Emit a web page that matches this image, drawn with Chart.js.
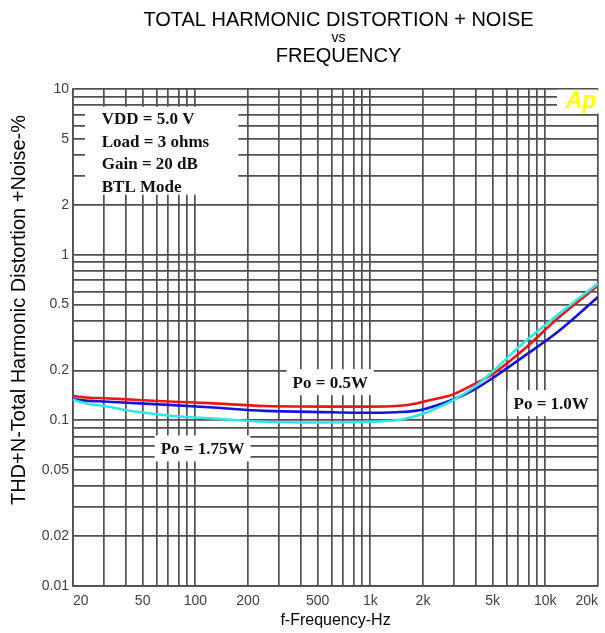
<!DOCTYPE html>
<html>
<head>
<meta charset="utf-8">
<script src="https://cdn.jsdelivr.net/npm/chart.js@4/dist/chart.umd.min.js"></script>
<style>
  html, body { margin: 0; padding: 0; background: #fff; }
  #wrap { width: 605px; height: 633px; position: relative; }
</style>
</head>
<body>
<div id="wrap"><canvas id="thdChart"></canvas></div>
<script>
const freqHz = [20, 25, 30, 45, 70, 120, 250, 600, 1000, 1400, 1800, 2100, 3000, 4000, 5000, 7600, 11700, 20000];

// THD+N (%) for each output power
const thdPo05 = [0.140, 0.137, 0.136, 0.133, 0.130, 0.127, 0.122, 0.121, 0.121, 0.122, 0.126, 0.131, 0.144, 0.167, 0.190, 0.270, 0.410, 0.650];
const thdPo10 = [0.134, 0.131, 0.130, 0.127, 0.124, 0.120, 0.114, 0.112, 0.111, 0.112, 0.114, 0.118, 0.134, 0.155, 0.180, 0.245, 0.340, 0.555];
const thdPo175 = [0.133, 0.125, 0.122, 0.113, 0.107, 0.103, 0.098, 0.097, 0.098, 0.100, 0.106, 0.112, 0.133, 0.161, 0.197, 0.297, 0.430, 0.670];

// labelled ticks
const xTickLabels = [20, 50, 100, 200, 500, 1000, 2000, 5000, 10000, 20000];
const yTickLabels = [0.01, 0.02, 0.05, 0.1, 0.2, 0.5, 1, 2, 5, 10];

const infoLines = ['VDD = 5.0 V', 'Load = 3 ohms', 'Gain = 20 dB', 'BTL Mode'];

const GRID = '#505050';
const SERIF = '"Liberation Serif", "Times New Roman", serif';
const SANS = '"Liberation Sans", Arial, sans-serif';

// 1..9 x 10^n grid between min and max
function logGrid(min, max) {
    let out = [];
    for (let e = -3; e <= 5; e++) {
        for (let m = 1; m <= 9; m++) {
            let v = Number((m * Math.pow(10, e)).toPrecision(6));
            if (v >= min && v <= max) out.push(v);
        }
    }
    return out;
}

function isLabelled(list, v) {
    return list.some((t) => Math.abs(t - v) / t < 1e-6);
}

function toPoints(ys) {
    return freqHz.map((f, i) => ({ x: f, y: ys[i] }));
}

const gridX = logGrid(20, 20000);
const gridY = logGrid(0.01, 10);

// title block (three centred lines, middle one smaller) and the y axis title
const titleBlock = {
    id: 'titleBlock',
    afterDraw(chart) {
        let ctx = chart.ctx;
        let area = chart.chartArea;
        let cx = (area.left + area.right) / 2 + 3;
        ctx.save();
        ctx.fillStyle = '#000';
        ctx.textAlign = 'center';
        ctx.textBaseline = 'middle';
        ctx.font = '20px ' + SANS;
        ctx.fillText('TOTAL HARMONIC DISTORTION + NOISE', cx, 20);
        ctx.font = '14px ' + SANS;
        ctx.fillText('vs', cx, 38);
        ctx.font = '20px ' + SANS;
        ctx.fillText('FREQUENCY', cx, 56);

        // y axis title, rotated
        ctx.translate(19, 310);
        ctx.rotate(-Math.PI / 2);
        ctx.font = '20px ' + SANS;
        ctx.fillText('THD+N-Total Harmonic Distortion +Noise-%', 0, 0);
        ctx.restore();
    }
};

// white boxes with the labels inside the plot
const plotNotes = {
    id: 'plotNotes',
    beforeDatasetsDraw(chart) {
        let ctx = chart.ctx;
        let xs = chart.scales.x;
        let ys = chart.scales.y;
        ctx.save();

        // condition box, top-left
        let bx0 = xs.getPixelForValue(23.4), bx1 = xs.getPixelForValue(176);
        let by0 = ys.getPixelForValue(7.8), by1 = ys.getPixelForValue(2.3);
        ctx.fillStyle = '#fff';
        ctx.fillRect(bx0, by0, bx1 - bx0, by1 - by0);
        ctx.fillStyle = '#111';
        ctx.font = 'bold 17px ' + SERIF;
        ctx.textAlign = 'left';
        ctx.textBaseline = 'middle';
        let tx = xs.getPixelForValue(29.2);
        infoLines.forEach((line, i) => {
            ctx.fillText(line, tx, by0 + 13 + i * 22.5);
        });

        // power labels
        let notes = [
            { text: 'Po = 0.5W', f: 590, v: 0.170 },
            { text: 'Po = 1.75W', f: 110, v: 0.0677 },
            { text: 'Po = 1.0W', f: 10800, v: 0.127 }
        ];
        ctx.textAlign = 'center';
        notes.forEach((n) => {
            let px = xs.getPixelForValue(n.f);
            let py = ys.getPixelForValue(n.v);
            let w = ctx.measureText(n.text).width + 12;
            ctx.fillStyle = '#fff';
            ctx.fillRect(px - w / 2, py - 13, w, 26);
            ctx.fillStyle = '#111';
            ctx.fillText(n.text, px, py + 1);
        });

        // Ap logo
        let ax = xs.getPixelForValue(16000);
        let ay = ys.getPixelForValue(8.5);
        ctx.fillStyle = '#fff';
        ctx.fillRect(ax - 24, ay - 11, 44, 24);
        ctx.fillStyle = '#ffff00';
        ctx.font = 'italic bold 23px ' + SANS;
        ctx.fillText('Ap', ax, ay + 1);
        ctx.restore();
    }
};

let ctx = document.getElementById('thdChart').getContext('2d');
let chart = new Chart(ctx, {
    type: 'line',
    data: {
        datasets: [
            {
                label: 'Po = 1.75W',
                data: toPoints(thdPo175),
                borderColor: '#2ee8e8',
                borderWidth: 2.6,
                pointRadius: 0,
                cubicInterpolationMode: 'monotone'
            },
            {
                label: 'Po = 0.5W',
                data: toPoints(thdPo05),
                borderColor: '#f01414',
                borderWidth: 2.6,
                pointRadius: 0,
                cubicInterpolationMode: 'monotone'
            },
            {
                label: 'Po = 1.0W',
                data: toPoints(thdPo10),
                borderColor: '#1414dc',
                borderWidth: 2.6,
                pointRadius: 0,
                cubicInterpolationMode: 'monotone'
            }
        ]
    },
    options: {
        responsive: true,
        maintainAspectRatio: false,
        animation: false,
        devicePixelRatio: 1,
        layout: { padding: { top: 89, right: 1, left: 0, bottom: 0 } },
        plugins: {
            legend: { display: false },
            tooltip: { enabled: false },
            title: { display: false }
        },
        scales: {
            x: {
                type: 'logarithmic',
                min: 20,
                max: 20000,
                afterBuildTicks: (s) => { s.ticks = gridX.map((v) => ({ value: v })); },
                afterFit: (s) => { s.height = 47; },
                ticks: {
                    autoSkip: false,
                    maxRotation: 0,
                    minRotation: 0,
                    align: 'inner',
                    padding: 7,
                    color: '#404040',
                    font: { family: SANS, size: 14 },
                    callback: (v) => {
                        if (!isLabelled(xTickLabels, v)) return '';
                        return v >= 1000 ? (v / 1000) + 'k' : String(v);
                    }
                },
                grid: { color: GRID, lineWidth: 1.7, drawTicks: false },
                border: { color: GRID, width: 1.7 },
                title: {
                    display: true,
                    text: 'f-Frequency-Hz',
                    color: '#000',
                    font: { family: SANS, size: 16 },
                    padding: { top: 0, bottom: 3 }
                }
            },
            y: {
                type: 'logarithmic',
                min: 0.01,
                max: 10,
                afterBuildTicks: (s) => { s.ticks = gridY.map((v) => ({ value: v })); },
                afterFit: (s) => { s.width = 73; },
                ticks: {
                    autoSkip: false,
                    padding: 4,
                    color: '#404040',
                    font: { family: SANS, size: 14 },
                    callback: (v) => isLabelled(yTickLabels, v) ? String(v) : ''
                },
                grid: { color: GRID, lineWidth: 1.7, drawTicks: false },
                border: { color: GRID, width: 1.7 }
            }
        }
    },
    plugins: [titleBlock, plotNotes]
});
</script>
</body>
</html>
